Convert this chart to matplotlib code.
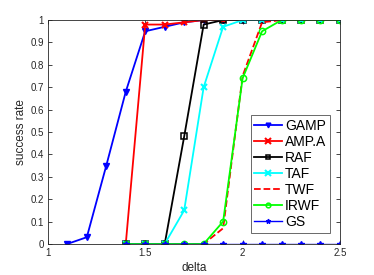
import matplotlib
matplotlib.use("Agg")
import matplotlib.pyplot as plt

x_gamp = [1.1, 1.2, 1.3, 1.4, 1.5, 1.6, 1.7, 1.8, 1.9, 2.0, 2.1, 2.2, 2.3, 2.4, 2.5]
gamp = [0.0, 0.03, 0.35, 0.68, 0.95, 0.97, 0.99, 1.0, 1.0, 1.0, 1.0, 1.0, 1.0, 1.0, 1.0]

x = [1.4, 1.5, 1.6, 1.7, 1.8, 1.9, 2.0, 2.1, 2.2, 2.3, 2.4, 2.5]
ampa = [0.0, 0.98, 0.98, 0.99, 1.0, 1.0, 1.0, 1.0, 1.0, 1.0, 1.0, 1.0]
raf = [0.0, 0.0, 0.0, 0.48, 0.98, 1.0, 1.0, 1.0, 1.0, 1.0, 1.0, 1.0]
taf = [0.0, 0.0, 0.0, 0.15, 0.70, 0.97, 1.0, 1.0, 1.0, 1.0, 1.0, 1.0]
twf = [0.0, 0.0, 0.0, 0.0, 0.0, 0.07, 0.75, 0.99, 1.0, 1.0, 1.0, 1.0]
irwf = [0.0, 0.0, 0.0, 0.0, 0.0, 0.10, 0.74, 0.95, 1.0, 1.0, 1.0, 1.0]
gs = [0.0] * 12

xticks = [1, 1.5, 2, 2.5]
xtick_labels = ["1", "1.5", "2", "2.5"]
yticks = [0, 0.1, 0.2, 0.3, 0.4, 0.5, 0.6, 0.7, 0.8, 0.9, 1]
ytick_labels = ["0", "0.1", "0.2", "0.3", "0.4", "0.5", "0.6", "0.7", "0.8", "0.9", "1"]

plt.rcParams['font.family'] = ['Liberation Sans', 'DejaVu Sans']
axcol = '#262626'
fig = plt.figure(figsize=(3.74, 2.75), dpi=100)
ax = fig.add_axes([0.128, 0.113, 0.781, 0.814])

lw = 1.3
ax.plot(x_gamp, gamp, '-v', color='#0000ff', lw=lw, ms=4.5, label='GAMP')
ax.plot(x, ampa, '-x', color='#ff0000', lw=lw, ms=5, mew=1.5, label='AMP.A')
ax.plot(x, raf, '-s', color='black', lw=lw, ms=4, mfc='none', mew=1.1, label='RAF')
ax.plot(x, taf, '-x', color='#00ffff', lw=lw, ms=5, mew=1.5, label='TAF')
ax.plot(x, twf, '--', color='#ff0000', lw=lw, label='TWF')
ax.plot(x, irwf, '-o', color='#00ff00', lw=lw, ms=4.5, mfc='none', mew=1.1, label='IRWF')
ax.plot(x, gs, '-*', color='#0000ff', lw=1.0, ms=4.5, label='GS')

ax.set_xlim(1, 2.5)
ax.set_ylim(0, 1)
ax.set_xticks(xticks)
ax.set_xticklabels(xtick_labels)
ax.set_yticks(yticks)
ax.set_yticklabels(ytick_labels)
ax.tick_params(direction='in', top=True, right=True, labelsize=7, length=3, width=0.6,
               pad=3, colors=axcol)
for s in ax.spines.values():
    s.set_linewidth(0.6)
    s.set_color(axcol)
ax.set_xlabel('delta', fontsize=8.5, labelpad=3, color=axcol)
ax.set_ylabel('success rate', fontsize=8.5, labelpad=2, color=axcol)

leg = ax.legend(loc='lower right', bbox_to_anchor=(0.965, 0.05), fontsize=10, frameon=True,
                fancybox=False, edgecolor=axcol, handlelength=2.0, handletextpad=0.2,
                borderpad=0.25, labelspacing=0.15, borderaxespad=0, markerscale=0.75)
leg.get_frame().set_linewidth(0.6)

fig.savefig('out.png', dpi=100)
